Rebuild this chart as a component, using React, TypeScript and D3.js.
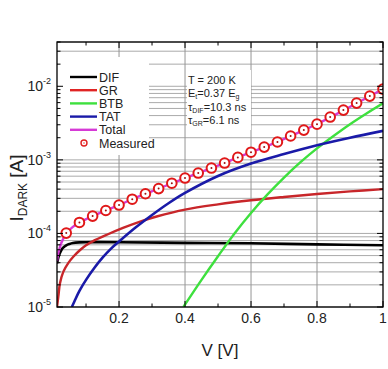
import React from "react";
import * as d3 from "d3";

const W = 388;
const H = 369;

// Measured data (V, A)
const measV = [0.04, 0.08, 0.12, 0.16, 0.2, 0.24, 0.28, 0.32, 0.36, 0.4, 0.44, 0.48, 0.52, 0.56, 0.6, 0.64, 0.68, 0.72, 0.76, 0.8, 0.84, 0.88, 0.92, 0.96, 1.0];
const measI = [1.01e-4, 1.41e-4, 1.72e-4, 2.05e-4, 2.43e-4, 2.92e-4, 3.46e-4, 4.07e-4, 4.82e-4, 5.66e-4, 6.62e-4, 7.74e-4, 9.05e-4, 1.08e-3, 1.27e-3, 1.49e-3, 1.75e-3, 2.11e-3, 2.54e-3, 3.06e-3, 3.82e-3, 4.75e-3, 5.91e-3, 7.36e-3, 9.16e-3];

// Model components
const difV = [0.012, 0.016, 0.02, 0.025, 0.03, 0.04, 0.05, 0.06, 0.08, 0.1, 0.2, 0.4, 0.6, 0.8, 1.0];
const difI = [3.9e-5, 4.7e-5, 5.3e-5, 5.9e-5, 6.35e-5, 6.9e-5, 7.2e-5, 7.4e-5, 7.55e-5, 7.6e-5, 7.6e-5, 7.45e-5, 7.35e-5, 7.1e-5, 6.9e-5];

const grV = [0.012, 0.016, 0.021, 0.031, 0.046, 0.062, 0.082, 0.1, 0.12, 0.163, 0.212, 0.264, 0.314, 0.4, 0.5, 0.6, 0.7, 0.8, 0.9, 1.0];
const grI = [1.0e-5, 1.38e-5, 2.1e-5, 3.0e-5, 3.95e-5, 4.85e-5, 5.95e-5, 6.9e-5, 7.8e-5, 9.6e-5, 1.19e-4, 1.45e-4, 1.7e-4, 2.11e-4, 2.48e-4, 2.82e-4, 3.13e-4, 3.44e-4, 3.73e-4, 4.0e-4];

const btbV = [0.395, 0.45, 0.5, 0.55, 0.6, 0.65, 0.7, 0.75, 0.8, 0.85, 0.9, 0.95, 1.0];
const btbI = [1.0e-5, 2.34e-5, 4.9e-5, 1.0e-4, 1.9e-4, 3.39e-4, 5.75e-4, 9.3e-4, 1.43e-3, 2.11e-3, 3.05e-3, 4.27e-3, 5.86e-3];

const tatV = [0.057, 0.065, 0.08, 0.1, 0.125, 0.15, 0.175, 0.2, 0.25, 0.3, 0.35, 0.4, 0.5, 0.6, 0.7, 0.8, 0.9, 1.0];
const tatI = [1.0e-5, 1.2e-5, 1.66e-5, 2.34e-5, 3.39e-5, 4.68e-5, 6.17e-5, 7.76e-5, 1.2e-4, 1.78e-4, 2.57e-4, 3.55e-4, 6.03e-4, 8.9e-4, 1.2e-3, 1.58e-3, 2.0e-3, 2.48e-3];

const totV = [0.012, 0.016, 0.02, 0.025, 0.03, 0.04, 0.06, 0.08, 0.12, 0.16, 0.2, 0.24, 0.28, 0.32, 0.36, 0.4, 0.44, 0.48, 0.52, 0.56, 0.6, 0.64, 0.68, 0.72, 0.76, 0.8, 0.84, 0.88, 0.92, 0.96, 1.0];
const totI = [4.2e-5, 5.4e-5, 6.3e-5, 7.4e-5, 8.3e-5, 1.0e-4, 1.23e-4, 1.4e-4, 1.72e-4, 2.05e-4, 2.43e-4, 2.92e-4, 3.45e-4, 4.07e-4, 4.8e-4, 5.65e-4, 6.6e-4, 7.75e-4, 9.1e-4, 1.08e-3, 1.27e-3, 1.49e-3, 1.76e-3, 2.1e-3, 2.53e-3, 3.07e-3, 3.78e-3, 4.7e-3, 5.88e-3, 7.35e-3, 9.2e-3];

const xTicks = [0.2, 0.4, 0.6, 0.8, 1];
const xTickLabels = ["0.2", "0.4", "0.6", "0.8", "1"];
const xMinor = [0.1, 0.3, 0.5, 0.7, 0.9];
const yDecades = [-5, -4, -3, -2];

const legendItems = [
  { name: "DIF", color: "#000000", kind: "line" },
  { name: "GR", color: "#e02424", kind: "line" },
  { name: "BTB", color: "#3ee03e", kind: "line" },
  { name: "TAT", color: "#1a1aa8", kind: "line" },
  { name: "Total", color: "#d63ad6", kind: "line" },
  { name: "Measured", color: "#e02020", kind: "marker" },
];

const FONT = "'Liberation Sans', Arial, sans-serif";

export default function App() {
  const L = 57, R = 383, T = 42, B = 307;
  const x = d3.scaleLinear().domain([0.012, 1]).range([L, R]);
  const y = d3.scaleLog().domain([1e-5, 4e-2]).range([B, T]);

  const line = d3
    .line<[number, number]>()
    .x((d) => x(d[0]))
    .y((d) => y(d[1]))
    .curve(d3.curveCatmullRom.alpha(0.5));

  const zip = (a: number[], b: number[]) => a.map((v, i) => [v, b[i]] as [number, number]);

  const gridVals: number[] = [];
  yDecades.forEach((k) => {
    for (let m = 1; m <= 9; m++) {
      const v = m * Math.pow(10, k);
      if (v <= 4e-2 * 1.0001) gridVals.push(v);
    }
  });

  const series = [
    { v: difV, i: difI, c: "#000000", w: 2.6 },
    { v: grV, i: grI, c: "#c8262a", w: 2.4 },
    { v: btbV, i: btbI, c: "#3ee03e", w: 2.4 },
    { v: tatV, i: tatI, c: "#1a1aa8", w: 2.6 },
    { v: totV, i: totI, c: "#d63ad6", w: 2.4 },
  ];

  return (
    <svg width={W} height={H} style={{ position: "absolute", left: 0, top: 0, background: "#fff" }} fontFamily={FONT}>
      <defs>
        <clipPath id="plotclip">
          <rect x={L} y={T} width={R - L} height={B - T} />
        </clipPath>
      </defs>
      <rect x={0} y={0} width={W} height={H} fill="#fff" />
      {/* horizontal grid */}
      {gridVals.map((v, i) => (
        <line key={"hg" + i} x1={L} x2={R} y1={y(v)} y2={y(v)} stroke="#a0a0a0" strokeWidth={0.9} />
      ))}
      {/* vertical grid */}
      {xTicks.slice(0, 4).map((v, i) => (
        <line key={"vg" + i} x1={x(v)} x2={x(v)} y1={T} y2={B} stroke="#959595" strokeWidth={1} />
      ))}
      {/* legend and annotation boxes */}
      <rect x={L + 1} y={57} width={91} height={98} fill="#fff" />
      <rect x={187} y={70} width={64} height={60} fill="#fff" />

      <g clipPath="url(#plotclip)">
        {series.map((s, i) => (
          <path key={"s" + i} d={line(zip(s.v, s.i)) || ""} fill="none" stroke={s.c} strokeWidth={s.w} />
        ))}
        {measV.map((v, i) => (
          <g key={"m" + i}>
            <circle cx={x(v)} cy={y(measI[i])} r={4.8} fill="#fff" stroke="#e01818" strokeWidth={2} />
            <circle cx={x(v)} cy={y(measI[i])} r={1} fill="#a01010" />
          </g>
        ))}
      </g>

      {/* frame */}
      <rect x={L} y={T} width={R - L} height={B - T} fill="none" stroke="#000" strokeWidth={1.3} />
      {/* y ticks */}
      {gridVals.map((v, i) => {
        const major = Math.abs(Math.log10(v) - Math.round(Math.log10(v))) < 1e-6;
        const len = major ? 6 : 3.5;
        return (
          <g key={"yt" + i}>
            <line x1={L} x2={L + len} y1={y(v)} y2={y(v)} stroke="#000" strokeWidth={1} />
            <line x1={R} x2={R - len} y1={y(v)} y2={y(v)} stroke="#000" strokeWidth={1} />
          </g>
        );
      })}
      {/* x ticks */}
      {xTicks.map((v, i) => (
        <g key={"xt" + i}>
          <line x1={x(v)} x2={x(v)} y1={B} y2={B - 6} stroke="#000" strokeWidth={1} />
          <line x1={x(v)} x2={x(v)} y1={T} y2={T + 6} stroke="#000" strokeWidth={1} />
        </g>
      ))}
      {xMinor.map((v, i) => (
        <g key={"xm" + i}>
          <line x1={x(v)} x2={x(v)} y1={B} y2={B - 3.5} stroke="#000" strokeWidth={1} />
          <line x1={x(v)} x2={x(v)} y1={T} y2={T + 3.5} stroke="#000" strokeWidth={1} />
        </g>
      ))}
      {/* x tick labels */}
      {xTicks.map((v, i) => (
        <text key={"xl" + i} x={x(v)} y={323} textAnchor="middle" fontSize={14} fill="#222">
          {xTickLabels[i]}
        </text>
      ))}
      {/* y tick labels */}
      {yDecades.map((k) => (
        <text key={"yl" + k} x={51} y={y(Math.pow(10, k)) + 5} textAnchor="end" fontSize={14} fill="#222">
          10
          <tspan fontSize={9} dy={-7}>
            {String(k)}
          </tspan>
        </text>
      ))}
      {/* axis titles */}
      <text x={(L + R) / 2} y={356} textAnchor="middle" fontSize={17} fill="#222">
        V [V]
      </text>
      <text transform={`translate(23, 188) rotate(-90)`} textAnchor="middle" fontSize={19} fill="#222">
        I
        <tspan fontSize={12} dy={4}>DARK</tspan>
        <tspan dy={-4}> [A]</tspan>
      </text>

      {/* legend */}
      {legendItems.map((d, i) => {
        const yy = 77 + i * 13.2;
        return (
          <g key={"lg" + i}>
            {d.kind === "line" ? (
              <line x1={70} x2={97} y1={yy} y2={yy} stroke={d.color} strokeWidth={2.4} />
            ) : (
              <g>
                <circle cx={84} cy={yy} r={3} fill="#fff" stroke={d.color} strokeWidth={1.4} />
                <circle cx={84} cy={yy} r={0.7} fill={d.color} />
              </g>
            )}
            <text x={99} y={yy + 4.5} fontSize={12.5} fill="#222">
              {d.name}
            </text>
          </g>
        );
      })}

      {/* annotation */}
      <g fontSize={11} fill="#222">
        <text x={188} y={84}>T = 200 K</text>
        <text x={188} y={97}>
          E<tspan fontSize={7} dy={2}>t</tspan>
          <tspan dy={-2}>=0.37 E</tspan>
          <tspan fontSize={7} dy={2}>g</tspan>
        </text>
        <text x={188} y={111}>
          τ<tspan fontSize={7} dy={2}>DIF</tspan>
          <tspan dy={-2}>=10.3 ns</tspan>
        </text>
        <text x={188} y={124}>
          τ<tspan fontSize={7} dy={2}>GR</tspan>
          <tspan dy={-2}>=6.1 ns</tspan>
        </text>
      </g>
    </svg>
  );
}
